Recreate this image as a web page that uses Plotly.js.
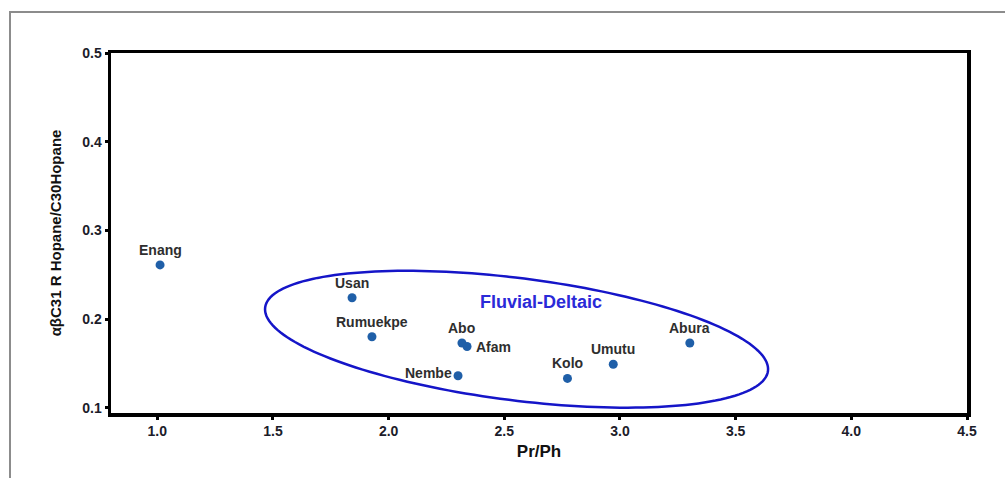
<!DOCTYPE html>
<html>
<head>
<meta charset="utf-8">
<script src="https://cdn.plot.ly/plotly-3.0.1.min.js"></script>
<style>
  html, body { margin: 0; padding: 0; background: #fff; }
  #wrap { position: relative; width: 1005px; height: 478px; overflow: hidden; }
  #chart { position: absolute; left: 0; top: 0; width: 1005px; height: 478px; }
  #frame { position: absolute; left: 9px; top: 11px; width: 1100px; height: 600px;
           border-left: 2px solid #8c8c8c; border-top: 2px solid #8c8c8c; pointer-events: none; }
</style>
</head>
<body>
<div id="wrap">
  <div id="chart"></div>
  <div id="frame"></div>
</div>
<script>
// ---- data ----
const sampleNames = ["Enang", "Usan", "Rumuekpe", "Abo", "Afam", "Nembe", "Kolo", "Umutu", "Abura"];
const prPh        = [1.012, 1.842, 1.928, 2.317, 2.339, 2.300, 2.773, 2.971, 3.302];
const hopaneRatio = [0.261, 0.224, 0.180, 0.173, 0.169, 0.136, 0.133, 0.149, 0.173];
const xTickVals   = [1.0, 1.5, 2.0, 2.5, 3.0, 3.5, 4.0, 4.5];
const yTickVals   = [0.1, 0.2, 0.3, 0.4, 0.5];
const groupLabel  = "Fluvial-Deltaic";

// ---- layout constants ----
const X_RANGE = [0.8, 4.5];
const Y_RANGE = [0.094, 0.5];
const M = {l: 111, r: 38, t: 53, b: 65};
const W = 1005, H = 478;
const plotW = W - M.l - M.r, plotH = H - M.t - M.b;
const pxX = plotW / (X_RANGE[1] - X_RANGE[0]);
const pxY = plotH / (Y_RANGE[1] - Y_RANGE[0]);

// group ellipse (centre in data units, axes in screen px, tilt in degrees)
const ELL = {cx: 2.553, cy: 0.1772, aPx: 253.4, bPx: 61.1, tiltDeg: 7.2};
function ellipsePath(e) {
  const th = e.tiltDeg * Math.PI / 180;
  let p = "";
  for (let i = 0; i <= 180; i++) {
    const t = i / 180 * 2 * Math.PI;
    const dx = e.aPx * Math.cos(t) * Math.cos(th) - e.bPx * Math.sin(t) * Math.sin(th);
    const dy = e.aPx * Math.cos(t) * Math.sin(th) + e.bPx * Math.sin(t) * Math.cos(th);
    const x = e.cx + dx / pxX, y = e.cy - dy / pxY;
    p += (i === 0 ? "M" : "L") + x.toFixed(5) + "," + y.toFixed(5);
  }
  return p + "Z";
}

const FONT = "Liberation Sans, Arial, sans-serif";
const labelPlacement = {Afam: "right", Nembe: "left"};
const labelFont = {family: FONT, size: 14, color: "#2e2e2e"};

const annotations = sampleNames.map((n, i) => {
  const place = labelPlacement[n] || "above";
  const a = {x: prPh[i], y: hopaneRatio[i], xref: "x", yref: "y", text: "<b>" + n + "</b>",
             showarrow: false, font: labelFont, yanchor: "middle"};
  if (place === "above") { a.xanchor = "center"; a.yshift = 15; }
  else if (place === "right") { a.xanchor = "left"; a.xshift = 7; a.yshift = 0; }
  else { a.xanchor = "right"; a.xshift = -4; a.yshift = 3; }
  return a;
});
annotations.push({x: 2.659, y: 0.2194, xref: "x", yref: "y", text: "<b>" + groupLabel + "</b>",
  showarrow: false, xanchor: "center", yanchor: "middle",
  font: {family: FONT, size: 18, color: "#2a2ad8"}});

const trace = {
  x: prPh, y: hopaneRatio, type: "scatter", mode: "markers",
  marker: {symbol: "circle", size: 9, color: "#1f5fa8", line: {width: 0}},
  hoverinfo: "skip", cliponaxis: false
};

const tickFont = {family: FONT, size: 14, color: "#1c1c2a", weight: "bold"};

const layout = {
  width: W, height: H,
  margin: M,
  paper_bgcolor: "rgba(0,0,0,0)",
  plot_bgcolor: "#ffffff",
  showlegend: false,
  xaxis: {
    range: X_RANGE, tickvals: xTickVals, tickformat: ".1f",
    showgrid: false, zeroline: false,
    showline: true, mirror: true, linecolor: "#000", linewidth: 3.5,
    ticks: "outside", ticklen: 3, tickwidth: 3, tickcolor: "#000",
    tickfont: tickFont,
    title: {text: "<b>Pr/Ph</b>", standoff: 8,
            font: {family: FONT, size: 17, color: "#111"}}
  },
  yaxis: {
    range: Y_RANGE, tickvals: yTickVals, tickformat: ".1f",
    showgrid: false, zeroline: false,
    showline: true, mirror: true, linecolor: "#000", linewidth: 3.5,
    ticks: "outside", ticklen: 3, tickwidth: 3, tickcolor: "#000",
    tickfont: tickFont,
    title: {text: "<b>αβC31 R Hopane/C30Hopane</b>", standoff: 18,
            font: {family: FONT, size: 15, color: "#111"}}
  },
  shapes: [{type: "path", xref: "x", yref: "y", path: ellipsePath(ELL),
            line: {color: "#1515c8", width: 2.5}, fillcolor: "rgba(0,0,0,0)", layer: "above"}],
  annotations: annotations
};

Plotly.newPlot("chart", [trace], layout, {staticPlot: true, displayModeBar: false});
</script>
</body>
</html>
